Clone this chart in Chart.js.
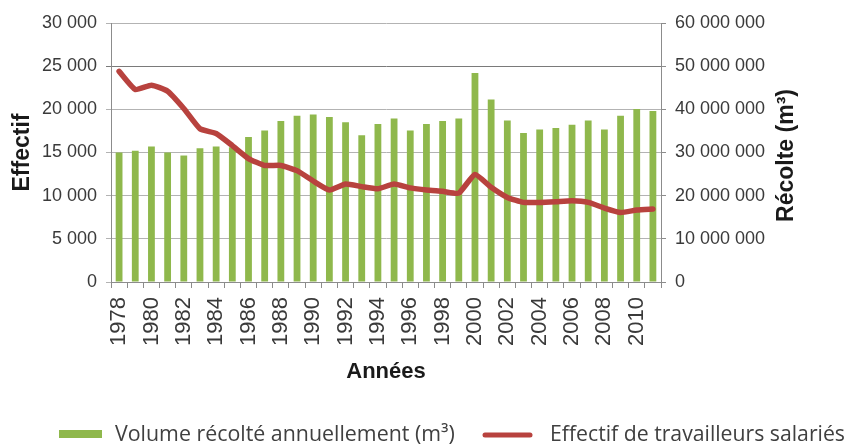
<!DOCTYPE html>
<html>
<head>
<meta charset="utf-8">
<script src="https://cdn.jsdelivr.net/npm/chart.js@4/dist/chart.umd.min.js"></script>
<style>
html,body{margin:0;padding:0;background:#fff;}
#wrap{position:relative;width:847px;height:444px;}
</style>
</head>
<body>
<div id="wrap"><canvas id="c" width="847" height="444"></canvas></div>
<script>
const years = [1978,1979,1980,1981,1982,1983,1984,1985,1986,1987,1988,1989,1990,1991,1992,1993,1994,1995,1996,1997,1998,1999,2000,2001,2002,2003,2004,2005,2006,2007,2008,2009,2010,2011];
const recolte = [30000000,30400000,31400000,30000000,29300000,31000000,31400000,31200000,33600000,35100000,37300000,38500000,38800000,38200000,37000000,34000000,36600000,37900000,35100000,36600000,37300000,37900000,48400000,42300000,37400000,34500000,35300000,35700000,36400000,37400000,35300000,38500000,40100000,39600000];
const effectif = [24400,22300,22800,22100,20100,17750,17200,15800,14300,13500,13500,12900,11700,10650,11350,11050,10800,11350,10900,10650,10500,10300,12450,10970,9800,9220,9220,9300,9400,9220,8570,8060,8330,8450];
const leftTicks = {min:0, max:30000, step:5000};
const rightTicks = {min:0, max:60000000, step:10000000};
const labelBars = 'Volume récolté annuellement (m³)';
const labelLine = 'Effectif de travailleurs salariés';
const titleLeft = 'Effectif';
const titleRight = 'Récolte (m³)';
const titleX = 'Années';

const GREEN = '#8fb84c';
const RED = '#b8423e';
const fmt = v => String(v).replace(/\B(?=(\d{3})+(?!\d))/g, ' ');

function fitFont(ctx, text, family, weight, target) {
  ctx.font = weight + ' 20px ' + family;
  const w = ctx.measureText(text).width;
  return 20 * target / w;
}

const customText = {
  id: 'customText',
  afterDraw(chart) {
    const ctx = chart.ctx;
    const a = chart.chartArea;
    ctx.save();
    ctx.font = 'bold 23px "Liberation Sans"';
    ctx.fillStyle = '#1a1a1a';
    ctx.textAlign = 'center';
    ctx.textBaseline = 'middle';
    ctx.translate(a.right + 126, (a.top + a.bottom) / 2 + 3);
    ctx.rotate(-Math.PI / 2);
    ctx.fillText(titleRight, 0, 0);
    ctx.restore();

    // legend
    ctx.save();
    const baseY = 441;
    ctx.fillStyle = GREEN;
    ctx.fillRect(59, 430, 43, 8);
    ctx.strokeStyle = RED;
    ctx.lineWidth = 5;
    ctx.lineCap = 'round';
    ctx.beginPath(); ctx.moveTo(485, 435); ctx.lineTo(530, 435); ctx.stroke();
    ctx.fillStyle = '#404040';
    ctx.textAlign = 'left';
    ctx.textBaseline = 'alphabetic';
    let s1 = fitFont(ctx, labelBars, '"Open Sans"', 'normal', 340);
    ctx.font = s1.toFixed(2) + 'px "Open Sans"';
    ctx.fillText(labelBars, 115, baseY);
    let s2 = fitFont(ctx, labelLine, '"Open Sans"', 'normal', 295);
    ctx.font = s2.toFixed(2) + 'px "Open Sans"';
    ctx.fillText(labelLine, 550, baseY);
    ctx.restore();
  }
};

new Chart(document.getElementById('c'), {
  data: {
    labels: years,
    datasets: [
      {
        type: 'line',
        label: labelLine,
        data: effectif,
        yAxisID: 'y',
        borderColor: RED,
        backgroundColor: RED,
        borderWidth: 5.5,
        pointRadius: 0,
        tension: 0.15,
        borderCapStyle: 'round',
        borderJoinStyle: 'round',
        order: 1
      },
      {
        type: 'bar',
        label: labelBars,
        data: recolte,
        yAxisID: 'y1',
        backgroundColor: GREEN,
        borderWidth: 0,
        barPercentage: 0.42,
        categoryPercentage: 1.0,
        order: 2
      }
    ]
  },
  options: {
    responsive: false,
    animation: false,
    devicePixelRatio: 1,
    layout: { padding: { top: 23, bottom: 44, left: 0, right: 0 } },
    plugins: { legend: { display: false }, tooltip: { enabled: false } },
    scales: {
      x: {
        type: 'category',
        offset: true,
        afterFit: s => { s.height = 118; },
        grid: { display: true, drawOnChartArea: false, offset: true, tickLength: 6, color: '#8c8c8c' },
        border: { display: true, color: '#8c8c8c' },
        ticks: {
          autoSkip: false, minRotation: 90, maxRotation: 90, padding: 9,
          color: '#3a3a3a', font: { family: '"Liberation Sans"', size: 22 },
          callback: function(v, i) { return i % 2 === 0 ? String(years[i]) : ''; }
        },
        title: { display: true, text: titleX, color: '#1a1a1a', font: { family: '"Liberation Sans"', size: 22, weight: 'bold' }, padding: { top: 0, bottom: 15 } }
      },
      y: {
        position: 'left',
        min: leftTicks.min, max: leftTicks.max,
        afterFit: s => { s.width = 111; },
        grid: {
          tickLength: 5,
          color: ctx => (ctx.tick && ctx.tick.value === 25000) ? '#7a7a7a' : '#b3b3b3'
        },
        border: { display: true, color: '#8c8c8c' },
        ticks: { stepSize: leftTicks.step, padding: 9, color: '#3a3a3a', font: { family: '"Liberation Sans"', size: 18 }, callback: v => fmt(v) },
        title: { display: true, text: titleLeft, color: '#1a1a1a', font: { family: '"Liberation Sans"', size: 23, weight: 'bold' }, padding: { top: 9, bottom: 0 } }
      },
      y1: {
        position: 'right',
        min: rightTicks.min, max: rightTicks.max,
        afterFit: s => { s.width = 186; },
        grid: { drawOnChartArea: false, tickLength: 5, color: '#8c8c8c' },
        border: { display: true, color: '#8c8c8c' },
        ticks: { stepSize: rightTicks.step, padding: 9, color: '#3a3a3a', font: { family: '"Liberation Sans"', size: 18 }, callback: v => fmt(v) }
      }
    }
  },
  plugins: [customText]
});
</script>
</body>
</html>
